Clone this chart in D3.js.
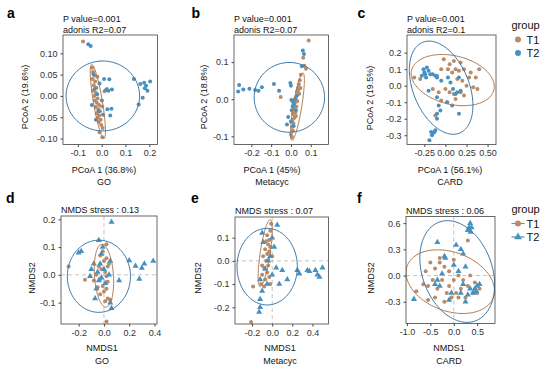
<!DOCTYPE html>
<html lang="en">
<head>
<meta charset="UTF-8">
<title>PCoA and NMDS of GO, Metacyc and CARD</title>
<script src="https://d3js.org/d3.v7.min.js"></script>
<style>
  body { margin: 0; background: #fff; }
  svg { font-family: "Liberation Sans", Arial, sans-serif; }
  .tick text { font-size: 9px; fill: #333; }
  .tick line { stroke: #444; }
  .axis-title { font-size: 9px; fill: #111; }
  .note { font-size: 9px; fill: #111; }
  .panel-letter { font-size: 14px; font-weight: bold; fill: #000; }
  .legend-text { font-size: 11px; fill: #111; }
</style>
</head>
<body>
<svg width="550" height="369"></svg>
<script>
// ---- data ----
const groups = ["T1", "T2"];

// a: PCoA, GO
const goPcoaT1 = [[-0.078,0.128],[-0.040,0.066],[-0.036,0.056],[-0.030,0.048],[-0.038,0.040],[-0.027,0.034],[-0.033,0.025],[-0.022,0.019],[-0.036,0.012],[-0.024,0.007],[-0.031,0.000],[-0.017,-0.006],[-0.029,-0.011],[-0.020,-0.016],[-0.011,-0.021],[-0.025,-0.026],[-0.014,-0.031],[-0.007,-0.036],[-0.021,-0.041],[-0.010,-0.046],[-0.016,-0.051],[-0.004,-0.056],[-0.012,-0.061],[-0.002,-0.068],[0.004,-0.075],[0.003,-0.097],[-0.009,-0.085],[0.012,0.011],[0.022,0.016],[-0.018,0.045],[0.002,-0.025]];
const goPcoaT2 = [[-0.056,0.121],[-0.046,0.117],[0.135,0.040],[0.162,0.028],[0.178,0.031],[0.186,0.024],[0.181,0.018],[0.203,0.034],[0.172,-0.004],[0.155,-0.020],[0.192,0.012],[0.010,0.040],[0.032,0.039],[0.041,-0.030],[0.036,-0.046],[0.024,-0.031],[0.043,0.015],[0.018,0.014],[-0.034,0.051],[-0.029,0.016],[-0.041,-0.021],[-0.024,-0.056],[-0.019,0.004],[-0.013,-0.036],[0.001,-0.011],[0.006,-0.044],[-0.009,0.029],[0.028,0.012]];
// ellipses: [cx, cy, ux, uy, vx, vy] (centre, half axis u, half axis v)
const goPcoaEllT1 = [-0.016,-0.013,-0.026,0.087,0.0186,0.0017];
const goPcoaEllT2 = [0.005,0.0,0.154,0,0,0.082];
const goPcoaXTicks = [-0.1, 0, 0.1, 0.2];
const goPcoaYTicks = [-0.1, -0.05, 0, 0.05, 0.1];

// b: PCoA, Metacyc
const metaPcoaT1 = [[0.090,0.158],[0.062,0.112],[0.068,0.090],[0.076,0.082],[0.050,0.066],[0.045,0.051],[0.040,0.040],[0.035,0.030],[0.030,0.020],[0.042,0.015],[0.025,0.005],[0.032,-0.005],[0.020,-0.010],[0.028,-0.020],[0.015,-0.025],[0.022,-0.035],[0.010,-0.040],[0.018,-0.050],[0.008,-0.055],[0.012,-0.065],[0.005,-0.075],[0.010,-0.085],[0.000,-0.095],[0.005,-0.102],[-0.052,0.006],[0.038,0.025],[0.025,-0.045],[0.048,0.030]];
const metaPcoaT2 = [[-0.262,0.038],[-0.267,0.021],[-0.241,0.026],[-0.210,0.028],[-0.181,0.025],[-0.164,0.023],[-0.147,0.032],[-0.086,0.041],[-0.060,0.023],[-0.003,0.044],[0.000,0.036],[-0.014,-0.048],[-0.020,-0.068],[0.060,0.131],[0.066,0.122],[0.055,0.089],[0.009,-0.019],[0.020,0.000],[0.015,-0.015],[0.004,-0.030],[0.030,0.010],[0.000,-0.060],[0.012,-0.008],[0.002,-0.002],[0.025,-0.030],[0.014,-0.072]];
const metaPcoaEllT1 = [0.033,-0.020,0.028,0.091,0.021,-0.002];
const metaPcoaEllT2 = [-0.008,0.005,0.178,0,0,0.094];
const metaPcoaXTicks = [-0.2, -0.1, 0, 0.1];
const metaPcoaYTicks = [-0.1, 0, 0.1];

// c: PCoA, CARD
const cardPcoaT1 = [[-0.37,0.05],[-0.30,0.04],[-0.02,0.16],[0.05,0.13],[0.10,0.15],[0.18,0.14],[0.12,0.10],[0.03,0.10],[-0.05,0.10],[0.08,0.08],[0.16,0.09],[0.22,0.10],[0.30,0.08],[0.36,0.05],[0.40,0.10],[0.28,0.05],[0.20,0.03],[0.25,0.00],[0.33,-0.01],[0.18,-0.04],[0.10,-0.05],[0.05,-0.04],[0.00,-0.02],[-0.08,-0.04],[-0.15,-0.02],[-0.05,-0.09],[0.02,-0.10],[0.12,-0.08],[0.22,-0.06],[-0.12,-0.18],[0.38,-0.02],[0.14,0.04],[-0.10,0.06]];
const cardPcoaT2 = [[-0.25,0.08],[-0.22,0.11],[-0.24,0.07],[-0.20,0.09],[-0.23,0.05],[-0.18,0.07],[-0.26,0.10],[-0.28,0.06],[-0.15,0.07],[-0.12,0.06],[-0.10,0.05],[-0.20,-0.03],[-0.10,-0.07],[-0.05,0.03],[0.06,0.02],[0.09,-0.02],[0.12,-0.05],[0.14,-0.04],[0.08,-0.12],[0.02,-0.10],[0.18,-0.03],[0.16,0.05],[-0.08,-0.12],[-0.06,-0.15],[-0.10,-0.17],[0.16,-0.17],[-0.17,-0.28],[-0.15,-0.29],[-0.13,-0.28],[-0.16,-0.30],[-0.12,-0.27],[-0.19,-0.33],[-0.10,-0.20],[0.03,0.05]];
const cardPcoaEllT1 = [0.087,0.034,0.488,-0.060,0.069,0.143];
const cardPcoaEllT2 = [-0.051,-0.012,0.218,-0.275,0.308,0.063];
const cardPcoaXTicks = [-0.25, 0, 0.25, 0.5];
const cardPcoaYTicks = [-0.3, -0.2, -0.1, 0, 0.1, 0.2];

// d: NMDS, GO
const goNmdsT1 = [[-0.28,0.03],[0.02,-0.168],[0.02,0.11],[-0.01,0.085],[-0.03,0.07],[0.02,0.06],[0.00,0.05],[-0.04,0.03],[0.03,0.03],[-0.02,0.02],[0.01,0.01],[-0.06,0.00],[0.02,-0.005],[-0.03,-0.015],[-0.08,-0.02],[-0.15,-0.018],[0.03,-0.025],[-0.01,-0.04],[-0.05,-0.045],[0.02,-0.05],[0.00,-0.06],[0.03,-0.085],[0.01,-0.095],[0.05,-0.09],[-0.03,-0.07],[0.04,0.04]];
const goNmdsT2 = [[0.06,0.19],[-0.04,0.125],[-0.20,0.08],[-0.18,0.085],[-0.01,0.10],[-0.02,0.075],[0.20,0.052],[0.25,0.032],[0.30,0.025],[0.32,0.04],[0.39,0.05],[0.28,-0.015],[0.12,-0.02],[-0.10,0.02],[-0.11,-0.005],[-0.05,0.01],[-0.02,-0.01],[-0.06,-0.05],[0.05,-0.10],[-0.07,-0.085],[0.06,-0.12],[-0.03,0.04],[0.00,0.02],[0.04,0.00],[-0.04,-0.02],[0.01,-0.03],[0.05,0.05],[-0.08,0.04]];
const goNmdsEllT1 = [0.0,-0.003,-0.017,0.113,0.075,0.002];
const goNmdsEllT2 = [-0.04,-0.005,0.25,0,0,0.13];
const goNmdsXTicks = [-0.2, 0, 0.2, 0.4];
const goNmdsYTicks = [-0.1, 0, 0.1, 0.2];

// e: NMDS, Metacyc
const metaNmdsT1 = [[-0.21,-0.263],[-0.19,-0.11],[-0.01,0.16],[-0.02,0.13],[-0.05,0.11],[-0.03,0.09],[-0.06,0.085],[-0.04,0.07],[-0.02,0.06],[-0.07,0.05],[-0.03,0.04],[-0.05,0.03],[-0.09,0.02],[-0.06,0.00],[-0.10,-0.02],[-0.08,-0.03],[-0.04,-0.02],[-0.10,-0.06],[-0.07,-0.08],[-0.03,-0.07],[-0.11,-0.10],[-0.08,-0.11],[0.00,0.02],[-0.02,-0.10],[-0.05,-0.05]];
const metaNmdsT2 = [[0.05,0.155],[-0.10,0.12],[0.00,0.10],[-0.09,0.08],[0.02,0.06],[-0.02,0.02],[-0.04,0.00],[0.04,-0.03],[0.10,-0.04],[0.25,-0.04],[0.35,-0.04],[0.37,-0.045],[0.43,-0.04],[0.50,-0.03],[0.45,-0.06],[0.47,-0.07],[0.27,-0.055],[0.15,-0.08],[0.07,-0.10],[-0.05,-0.10],[-0.12,-0.08],[-0.10,-0.13],[-0.12,-0.20],[-0.13,-0.22],[-0.12,-0.165],[-0.07,-0.035],[0.00,-0.06]];
const metaNmdsEllT1 = [-0.07,0.033,0.05,0.144,0.049,-0.003];
const metaNmdsEllT2 = [-0.05,-0.025,0.30,0,0,0.165];
const metaNmdsXTicks = [-0.2, 0, 0.2, 0.4];
const metaNmdsYTicks = [-0.2, -0.1, 0, 0.1];

// f: NMDS, CARD
const cardNmdsT1 = [[-0.80,-0.18],[-0.55,-0.28],[-0.60,0.05],[-0.50,0.15],[-0.65,-0.10],[-0.45,-0.05],[-0.55,-0.12],[-0.40,0.08],[-0.30,0.20],[-0.20,0.10],[-0.10,0.05],[0.00,0.18],[0.30,0.40],[-0.35,-0.15],[-0.25,-0.05],[-0.15,-0.20],[-0.05,-0.25],[0.05,-0.20],[0.15,-0.15],[0.10,-0.25],[-0.20,-0.30],[0.20,-0.05],[0.30,-0.12],[0.45,-0.08],[0.55,-0.15],[0.50,-0.20],[0.35,0.00],[-0.10,-0.12],[0.00,-0.05],[0.10,0.00],[-0.40,-0.25],[0.25,-0.25],[0.40,-0.20],[-0.30,0.15]];
const cardNmdsT2 = [[0.35,0.60],[0.33,0.55],[0.38,0.55],[0.30,0.52],[0.36,0.50],[-0.35,0.38],[-0.20,0.22],[-0.18,0.20],[0.05,0.35],[0.15,0.30],[0.20,0.25],[0.25,0.10],[0.10,0.05],[0.00,0.12],[-0.25,0.02],[-0.35,-0.05],[-0.40,-0.10],[-0.30,-0.12],[-0.85,-0.27],[0.45,-0.15],[0.50,-0.12],[0.48,-0.18],[0.42,-0.20],[0.55,-0.10],[0.35,-0.15],[0.30,-0.22],[0.15,-0.20],[0.20,-0.10],[-0.05,-0.20],[-0.10,-0.28],[0.25,-0.30]];
const cardNmdsEllT1 = [-0.075,-0.07,0.92,-0.18,0.213,0.317];
const cardNmdsEllT2 = [0.074,0.046,-0.385,0.566,0.70,0.137];
const cardNmdsXTicks = [-1, -0.5, 0, 0.5];
const cardNmdsYTicks = [-0.3, 0, 0.3, 0.6];

// ---- styling ----
const pointColor = { T1: "#b88b69", T2: "#4791c0" };
const ellipseColor = { T1: "#ad7a52", T2: "#3a78a9" };

// plain hyphen for negative tick labels, as in the figure
const locale = d3.formatLocale({ decimal: ".", thousands: ",", grouping: [3], currency: ["", ""], minus: "-" });

const svg = d3.select("svg");
svg.append("rect").attr("width", 550).attr("height", 369).attr("fill", "#fff");

const panels = [
  { id: "a", box: [63, 35, 157.5, 144.5], xDom: [-0.162, 0.234], yDom: [-0.114, 0.143],
    xTicks: goPcoaXTicks, yTicks: goPcoaYTicks, xFmt: ".1f", yFmt: ".2f",
    t1: goPcoaT1, t2: goPcoaT2, e1: goPcoaEllT1, e2: goPcoaEllT2, nmds: false,
    notes: ["P value=0.001", "adonis R2=0.07"], xTitle: "PCoA 1 (36.8%)", yTitle: "PCoA 2 (19.6%)", db: "GO",
    letter: [7, 17.5], xTitleX: 104, yTitle_: [25, 97] },
  { id: "b", box: [234, 35, 328.5, 144.5], xDom: [-0.288, 0.19], yDom: [-0.122, 0.173],
    xTicks: metaPcoaXTicks, yTicks: metaPcoaYTicks, xFmt: ".1f", yFmt: ".1f",
    t1: metaPcoaT1, t2: metaPcoaT2, e1: metaPcoaEllT1, e2: metaPcoaEllT2, nmds: false,
    notes: ["P value=0.001", "adonis R2=0.07"], xTitle: "PCoA 1 (45%)", yTitle: "PCoA 2 (18.8%)", db: "Metacyc",
    letter: [191.5, 17.5], xTitleX: 272, yTitle_: [204, 97] },
  { id: "c", box: [407, 35, 496, 144.5], xDom: [-0.456, 0.6], yDom: [-0.356, 0.307],
    xTicks: cardPcoaXTicks, yTicks: cardPcoaYTicks, xFmt: ".2f", yFmt: ".1f",
    t1: cardPcoaT1, t2: cardPcoaT2, e1: cardPcoaEllT1, e2: cardPcoaEllT2, nmds: false,
    notes: ["P value=0.001", "adonis R2=0.1"], xTitle: "PCoA 1 (56.1%)", yTitle: "PCoA 2 (19.5%)", db: "CARD",
    letter: [357.5, 17.5], xTitleX: 450, yTitle_: [370, 98] },
  { id: "d", box: [61, 216, 157, 324], xDom: [-0.34, 0.42], yDom: [-0.177, 0.212],
    xTicks: goNmdsXTicks, yTicks: goNmdsYTicks, xFmt: ".1f", yFmt: ".1f",
    t1: goNmdsT1, t2: goNmdsT2, e1: goNmdsEllT1, e2: goNmdsEllT2, nmds: true,
    notes: ["NMDS stress : 0.13"], xTitle: "NMDS1", yTitle: "NMDS2", db: "GO",
    letter: [6, 202.5], xTitleX: 102, yTitle_: [31.5, 278] },
  { id: "e", box: [235, 217, 328.5, 324], xDom: [-0.37, 0.56], yDom: [-0.272, 0.189],
    xTicks: metaNmdsXTicks, yTicks: metaNmdsYTicks, xFmt: ".1f", yFmt: ".1f",
    t1: metaNmdsT1, t2: metaNmdsT2, e1: metaNmdsEllT1, e2: metaNmdsEllT2, nmds: true,
    notes: ["NMDS stress : 0.07"], xTitle: "NMDS1", yTitle: "NMDS2", db: "Metacyc",
    letter: [191, 202.5], xTitleX: 280, yTitle_: [197.5, 278] },
  { id: "f", box: [406, 216.5, 495, 323.5], xDom: [-1.02, 0.88], yDom: [-0.549, 0.676],
    xTicks: cardNmdsXTicks, yTicks: cardNmdsYTicks, xFmt: ".1f", yFmt: ".1f",
    t1: cardNmdsT1, t2: cardNmdsT2, e1: cardNmdsEllT1, e2: cardNmdsEllT2, nmds: true,
    notes: ["NMDS stress : 0.06"], xTitle: "NMDS1", yTitle: "NMDS2", db: "CARD",
    letter: [357, 202.5], xTitleX: 449, yTitle_: [371, 278] }
];

function ellipsePoints(e) {
  const [cx, cy, ux, uy, vx, vy] = e;
  return d3.range(0, 361, 3).map(deg => {
    const t = deg * Math.PI / 180;
    return [cx + Math.cos(t) * ux + Math.sin(t) * vx, cy + Math.cos(t) * uy + Math.sin(t) * vy];
  });
}

const triangle = d3.symbol().type(d3.symbolTriangle).size(16);

function drawPanel(p) {
  const [x0, y0, x1, y1] = p.box;
  const x = d3.scaleLinear().domain(p.xDom).range([x0, x1]);
  const y = d3.scaleLinear().domain(p.yDom).range([y1, y0]);
  const g = svg.append("g");

  g.append("clipPath").attr("id", "clip-" + p.id)
    .append("rect").attr("x", x0).attr("y", y0).attr("width", x1 - x0).attr("height", y1 - y0);
  const inner = g.append("g").attr("clip-path", `url(#clip-${p.id})`);

  if (p.nmds) {
    inner.append("line").attr("x1", x(0)).attr("x2", x(0)).attr("y1", y0).attr("y2", y1)
      .attr("stroke", "#b5b5b5").attr("stroke-width", 0.8).attr("stroke-dasharray", "4,3");
    inner.append("line").attr("x1", x0).attr("x2", x1).attr("y1", y(0)).attr("y2", y(0))
      .attr("stroke", "#b5b5b5").attr("stroke-width", 0.8).attr("stroke-dasharray", "4,3");
  }

  inner.selectAll(".p1").data(p.t1).join("circle")
    .attr("cx", d => x(d[0])).attr("cy", d => y(d[1])).attr("r", 2)
    .attr("fill", pointColor.T1);

  if (p.nmds) {
    inner.selectAll(".p2").data(p.t2).join("path")
      .attr("d", triangle)
      .attr("transform", d => `translate(${x(d[0])},${y(d[1])})`)
      .attr("fill", pointColor.T2);
  } else {
    inner.selectAll(".p2").data(p.t2).join("circle")
      .attr("cx", d => x(d[0])).attr("cy", d => y(d[1])).attr("r", 2)
      .attr("fill", pointColor.T2);
  }

  const line = d3.line().x(d => x(d[0])).y(d => y(d[1]));
  inner.append("path").attr("d", line(ellipsePoints(p.e1)))
    .attr("fill", "none").attr("stroke", ellipseColor.T1).attr("stroke-width", 1);
  inner.append("path").attr("d", line(ellipsePoints(p.e2)))
    .attr("fill", "none").attr("stroke", ellipseColor.T2).attr("stroke-width", 1);

  g.append("rect").attr("x", x0).attr("y", y0).attr("width", x1 - x0).attr("height", y1 - y0)
    .attr("fill", "none").attr("stroke", "#444").attr("stroke-width", 0.8);

  const xa = g.append("g").attr("transform", `translate(0,${y1})`)
    .call(d3.axisBottom(x).tickValues(p.xTicks).tickFormat(locale.format(p.xFmt)).tickSize(2.5).tickPadding(3));
  const ya = g.append("g").attr("transform", `translate(${x0},0)`)
    .call(d3.axisLeft(y).tickValues(p.yTicks).tickFormat(locale.format(p.yFmt)).tickSize(2.5).tickPadding(3));
  [xa, ya].forEach(a => {
    a.select(".domain").remove();
    a.attr("font-family", null).attr("font-size", null);
  });

  svg.append("text").attr("class", "panel-letter")
    .attr("x", p.letter[0]).attr("y", p.letter[1]).text(p.id);

  if (p.nmds) {
    svg.append("text").attr("class", "note").attr("x", x0).attr("y", y0 - 3).text(p.notes[0]);
  } else {
    svg.append("text").attr("class", "note").attr("x", x0).attr("y", 22).text(p.notes[0]);
    svg.append("text").attr("class", "note").attr("x", x0).attr("y", 32.5).text(p.notes[1]);
  }

  const titleY = p.nmds ? 351 : 172.5;
  svg.append("text").attr("class", "axis-title").attr("text-anchor", "middle")
    .attr("x", p.xTitleX).attr("y", titleY).text(p.xTitle);
  svg.append("text").attr("class", "axis-title").attr("text-anchor", "middle")
    .attr("x", p.xTitleX).attr("y", titleY + 12.5).text(p.db);

  svg.append("text").attr("class", "axis-title").attr("text-anchor", "middle")
    .attr("dominant-baseline", "central")
    .attr("transform", `translate(${p.yTitle_[0]},${p.yTitle_[1]}) rotate(-90)`)
    .text(p.yTitle);
}

panels.forEach(drawPanel);

// legends
function drawLegend(top, withShapes) {
  svg.append("text").attr("class", "legend-text").attr("x", 511.5).attr("y", top).text("group");
  groups.forEach((gname, i) => {
    const cy = top + 11 + i * 13.5;
    if (withShapes) {
      svg.append("line").attr("x1", 511.5).attr("x2", 524.5).attr("y1", cy).attr("y2", cy)
        .attr("stroke", ellipseColor[gname]).attr("stroke-width", 1);
    }
    if (withShapes && gname === "T2") {
      svg.append("path").attr("d", d3.symbol().type(d3.symbolTriangle).size(26)())
        .attr("transform", `translate(518,${cy})`).attr("fill", pointColor[gname]);
    } else {
      svg.append("circle").attr("cx", 518).attr("cy", cy).attr("r", 3)
        .attr("fill", pointColor[gname]);
    }
    svg.append("text").attr("class", "legend-text").attr("x", 526.5).attr("y", cy + 4).text(gname);
  });
}
drawLegend(28.5, false);
drawLegend(212.5, true);
</script>
</body>
</html>
